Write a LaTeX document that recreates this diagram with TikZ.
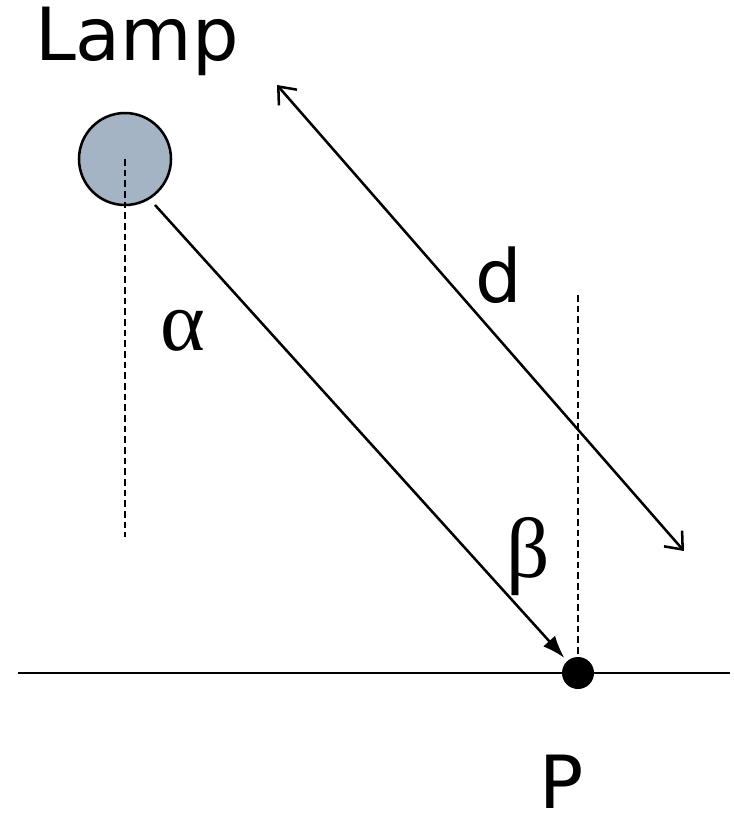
\documentclass[tikz,border=0pt]{standalone}
\usepackage{fontspec}
\usepackage{xcolor}
\usepackage{tikz}
\usetikzlibrary{arrows.meta, positioning}
\newfontfamily\labelfont{DejaVu Sans}
\newfontfamily\greekfont{Liberation Serif}
\definecolor{lampgray}{HTML}{A5B4C4}

\begin{document}
\begin{tikzpicture}[x=0.75pt, y=-0.75pt,
        lamp/.style={circle, draw=black, line width=1.9pt, fill=lampgray, minimum size=69pt, inner sep=0pt},
        spot/.style={circle, fill=black, minimum size=24pt, inner sep=0pt},
        bigtext/.style={font=\fontsize{55}{60}\selectfont\labelfont, inner sep=0pt},
        angletext/.style={font=\fontsize{64}{68}\selectfont\greekfont, inner sep=0pt},
        guide/.style={line width=1.5pt, dash pattern=on 5pt off 3pt},
        ray/.style={line width=1.9pt}
    ]
        \useasboundingbox (0,0) rectangle (734,819);

        % Nodes
        \node [lamp] (lamp) at (125,159) {};
        \node [spot] (pt) at (578,673) {};
        \node [bigtext] (lamptext) at (137,41) {Lamp};
        \node [bigtext] (dtext) at (499,275) {d};
        \node [bigtext] (ptext) at (562,782) {P};
        \node [angletext] (alpha) at (183,331) {α};
        \node [angletext] (beta) at (528,557) {β};

        % Coordinates
        \coordinate (lampfoot) at (125,537);
        \coordinate (normtop) at (578,295);
        \coordinate (raystart) at (155,205);
        \coordinate (dtop) at (277,85);
        \coordinate (dbot) at (684,551);
        \coordinate (gleft) at (18,673);
        \coordinate (gright) at (730,673);

        % Connectors
        \draw[ray] (gleft) -- (gright);
        \draw[guide] (lamp.center) -- (lampfoot);
        \draw[guide] (normtop) -- (pt);
        \draw[ray, -{Latex[length=17pt, width=12pt]}, shorten >=3pt] (raystart) -- (pt);
        \draw[ray, {Straight Barb[length=11pt, width=18pt]}-{Straight Barb[length=11pt, width=18pt]}] (dtop) -- (dbot);
    \end{tikzpicture}
\end{document}
